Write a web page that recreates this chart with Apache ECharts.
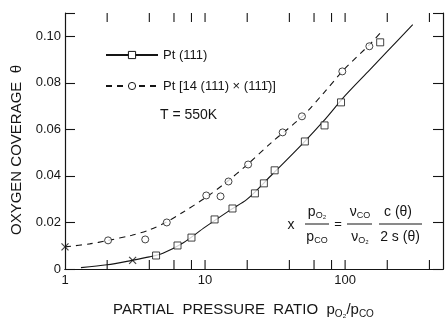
<!DOCTYPE html>
<html>
<head>
<meta charset="utf-8" />
<title>Oxygen coverage</title>
<script src="https://cdn.jsdelivr.net/npm/echarts@6/dist/echarts.min.js"></script>
<style>
html, body { margin: 0; padding: 0; background: #fff; }
#main { width: 446px; height: 322px; }
</style>
</head>
<body>
<div id="main"></div>
<script>
// Pt(111), squares
var sqX = [4.47, 6.36, 8.0, 11.7, 15.7, 22.7, 26.3, 31.4, 51.6, 71.3, 93.5, 178];
var sqY = [0.0058, 0.0101, 0.0135, 0.0213, 0.026, 0.0325, 0.0368, 0.0424, 0.0548, 0.0617, 0.0716, 0.0974];
// stepped surface, circles
var ciX = [2.03, 3.74, 5.33, 10.2, 12.9, 14.7, 20.3, 35.8, 49.2, 95.5, 149];
var ciY = [0.0123, 0.0127, 0.020, 0.0316, 0.0312, 0.0376, 0.0449, 0.0587, 0.0656, 0.0849, 0.0957];
// calculated points (x)
var crX = [1.0, 3.04];
var crY = [0.0095, 0.0037];
// fitted curves
var fit1X = [1.3, 2, 3, 4, 5, 7, 10, 15, 20, 30, 50, 70, 100, 150, 200, 304];
var fit1Y = [0.0006, 0.0018, 0.0037, 0.0052, 0.0068, 0.0113, 0.018, 0.0252, 0.030, 0.0405, 0.054, 0.0635, 0.0745, 0.0856, 0.0935, 0.105];
var fit2X = [1, 1.5, 2, 3, 4, 5.3, 7, 10, 14, 20, 30, 50, 70, 100, 150, 185];
var fit2Y = [0.0095, 0.0108, 0.0122, 0.0145, 0.0168, 0.0202, 0.0245, 0.0305, 0.037, 0.0448, 0.0545, 0.0658, 0.0755, 0.0862, 0.0965, 0.1025];

var names = ['Pt (111)', 'Pt [14 (111) \u00d7 (111\u0304)]'];
var xMin = 1, xMax = 500;
var xTickVals = [2, 4, 6, 8, 10, 20, 40, 60, 80, 100, 200, 400];
var xLabels = [1, 10, 100];
var yMin = 0, yMax = 0.11, yStep = 0.02;

var FONT = '"Liberation Sans", Arial, sans-serif';
var INK = '#151515';

function pairs(xs, ys) {
	return xs.map(function (x, i) { return [x, ys[i]]; });
}

var chart = echarts.init(document.getElementById('main'));

var tickLine = { color: INK, width: 1.1 };

// tick marks on the log x axis (bottom and top, pointing inwards)
function renderTicks(params, api) {
	var v = api.value(0);
	var b = api.coord([v, yMin]);
	var t = api.coord([v, yMax]);
	var st = { stroke: INK, lineWidth: 1.1 };
	return {
		type: 'group',
		children: [
			{ type: 'line', shape: { x1: b[0], y1: b[1], x2: b[0], y2: b[1] - 9 }, style: st },
			{ type: 'line', shape: { x1: t[0], y1: t[1], x2: t[0], y2: t[1] + 9 }, style: st }
		]
	};
}

var option = {
	backgroundColor: '#fff',
	animation: false,
	grid: { left: 65, top: 13, width: 386, height: 256 },
	legend: {
		data: names,
		orient: 'vertical',
		left: 100, top: 42,
		itemWidth: 52, itemHeight: 9, itemGap: 15,
		selectedMode: false,
		textStyle: { fontSize: 13, lineHeight: 16, color: INK, fontFamily: FONT },
		itemStyle: { color: '#fff', borderColor: INK, borderWidth: 1 }
	},
	xAxis: [{
		type: 'log', logBase: 10, min: xMin, max: xMax, position: 'bottom',
		axisLine: { show: true, lineStyle: { color: INK, width: 1.2 } },
		axisTick: { show: false },
		splitLine: { show: false },
		axisLabel: {
			color: INK, fontSize: 13, fontFamily: FONT, margin: 5,
			formatter: function (v) {
				for (var i = 0; i < xLabels.length; i++) {
					if (Math.abs(v - xLabels[i]) < 1e-6 * xLabels[i]) return String(xLabels[i]);
				}
				return '';
			}
		}
	}, {
		type: 'log', logBase: 10, min: xMin, max: xMax, position: 'top',
		axisLine: { show: true, lineStyle: { color: INK, width: 1.2 } },
		axisTick: { show: false },
		axisLabel: { show: false },
		splitLine: { show: false }
	}],
	yAxis: [{
		type: 'value', min: yMin, max: yMax, interval: yStep, position: 'left',
		axisLine: { show: true, lineStyle: { color: INK, width: 1.2 } },
		axisTick: { show: true, inside: true, length: 10, lineStyle: tickLine },
		splitLine: { show: false },
		axisLabel: {
			color: INK, fontSize: 13, fontFamily: FONT, margin: 4,
			formatter: function (v) {
				if (v > 0.105) return '';
				return v === 0 ? '0' : v.toFixed(2);
			}
		}
	}, {
		type: 'value', min: yMin, max: yMax, interval: yStep, position: 'right',
		axisLine: { show: true, lineStyle: { color: INK, width: 1.2 } },
		axisTick: { show: true, inside: true, length: 10, lineStyle: tickLine },
		splitLine: { show: false },
		axisLabel: { show: false }
	}],
	series: [{
		name: 'ticks', type: 'custom', xAxisIndex: 0, yAxisIndex: 0,
		data: xTickVals.map(function (v) { return [v]; }),
		renderItem: renderTicks, clip: false, silent: true, z: 1
	}, {
		name: names[0], type: 'line', xAxisIndex: 0, yAxisIndex: 0,
		data: pairs(fit1X, fit1Y), smooth: 0.3,
		symbol: 'rect', showSymbol: false, silent: true,
		lineStyle: { color: INK, width: 1.1 },
		itemStyle: { color: INK }, z: 2
	}, {
		name: names[1], type: 'line', xAxisIndex: 0, yAxisIndex: 0,
		data: pairs(fit2X, fit2Y), smooth: 0.3,
		symbol: 'circle', showSymbol: false, silent: true,
		lineStyle: { color: INK, width: 1.1, type: [6, 5] },
		itemStyle: { color: INK }, z: 2
	}, {
		name: 'squares', type: 'scatter', xAxisIndex: 0, yAxisIndex: 0,
		data: pairs(sqX, sqY), symbol: 'rect', symbolSize: 7,
		itemStyle: { color: '#fff', borderColor: INK, borderWidth: 1 }, z: 5
	}, {
		name: 'circles', type: 'scatter', xAxisIndex: 0, yAxisIndex: 0,
		data: pairs(ciX, ciY), symbol: 'circle', symbolSize: 7,
		itemStyle: { color: '#fff', borderColor: INK, borderWidth: 1 }, z: 5
	}, {
		name: 'calc', type: 'scatter', xAxisIndex: 0, yAxisIndex: 0,
		data: pairs(crX, crY), symbol: 'path://M0,0L10,10M10,0L0,10', symbolSize: 7,
		itemStyle: { color: 'transparent', borderColor: INK, borderWidth: 1.2 }, z: 5
	}],
	graphic: [
		// y axis title
		{
			type: 'text', x: 17, y: 150, rotation: Math.PI / 2,
			style: { text: 'OXYGEN COVERAGE  \u03b8', fontSize: 15, fontFamily: FONT, fill: INK, align: 'center', verticalAlign: 'middle' }
		},
		// x axis title
		{
			type: 'text', x: 113, y: 310,
			style: {
				text: '{t|PARTIAL  PRESSURE  RATIO  }{p|p}{s|O\u2082}{p|/p}{s|CO}',
				fill: INK, verticalAlign: 'middle',
				rich: {
					t: { fontSize: 15, fontFamily: FONT, lineHeight: 18 },
					p: { fontSize: 15, fontFamily: FONT, lineHeight: 18 },
					s: { fontSize: 10, fontFamily: FONT, lineHeight: 8, verticalAlign: 'bottom' }
				}
			}
		},
		{
			type: 'text', x: 160, y: 115,
			style: { text: 'T = 550K', fontSize: 14, fontFamily: FONT, fill: INK, verticalAlign: 'middle' }
		},
		// equation
		{ type: 'text', x: 291, y: 225, style: { text: 'x', fontSize: 14, fontFamily: FONT, fill: INK, align: 'center', verticalAlign: 'middle' } },
		eqText(317, 212, '{p|p}{s|O\u2082}'),
		{ type: 'line', shape: { x1: 305, y1: 224, x2: 329, y2: 224 }, style: { stroke: INK, lineWidth: 1 } },
		eqText(317, 237, '{p|p}{s|CO}'),
		{ type: 'text', x: 338, y: 224, style: { text: '=', fontSize: 13, fontFamily: FONT, fill: INK, align: 'center', verticalAlign: 'middle' } },
		eqText(360, 212, '{p|\u03bd}{s|CO}'),
		{ type: 'line', shape: { x1: 347, y1: 224, x2: 372, y2: 224 }, style: { stroke: INK, lineWidth: 1 } },
		eqText(360, 237, '{p|\u03bd}{s|O\u2082}'),
		eqText(398, 212, '{p|c (\u03b8)}'),
		{ type: 'line', shape: { x1: 379, y1: 224, x2: 422, y2: 224 }, style: { stroke: INK, lineWidth: 1 } },
		eqText(400, 237, '{p|2 s (\u03b8)}')
	]
};

function eqText(x, y, txt) {
	return {
		type: 'text', x: x, y: y,
		style: {
			text: txt, fill: INK, align: 'center', verticalAlign: 'middle',
			rich: {
				p: { fontSize: 14, fontFamily: FONT, lineHeight: 16 },
				s: { fontSize: 9, fontFamily: FONT, lineHeight: 7, verticalAlign: 'bottom' }
			}
		}
	};
}

chart.setOption(option);
</script>
</body>
</html>
